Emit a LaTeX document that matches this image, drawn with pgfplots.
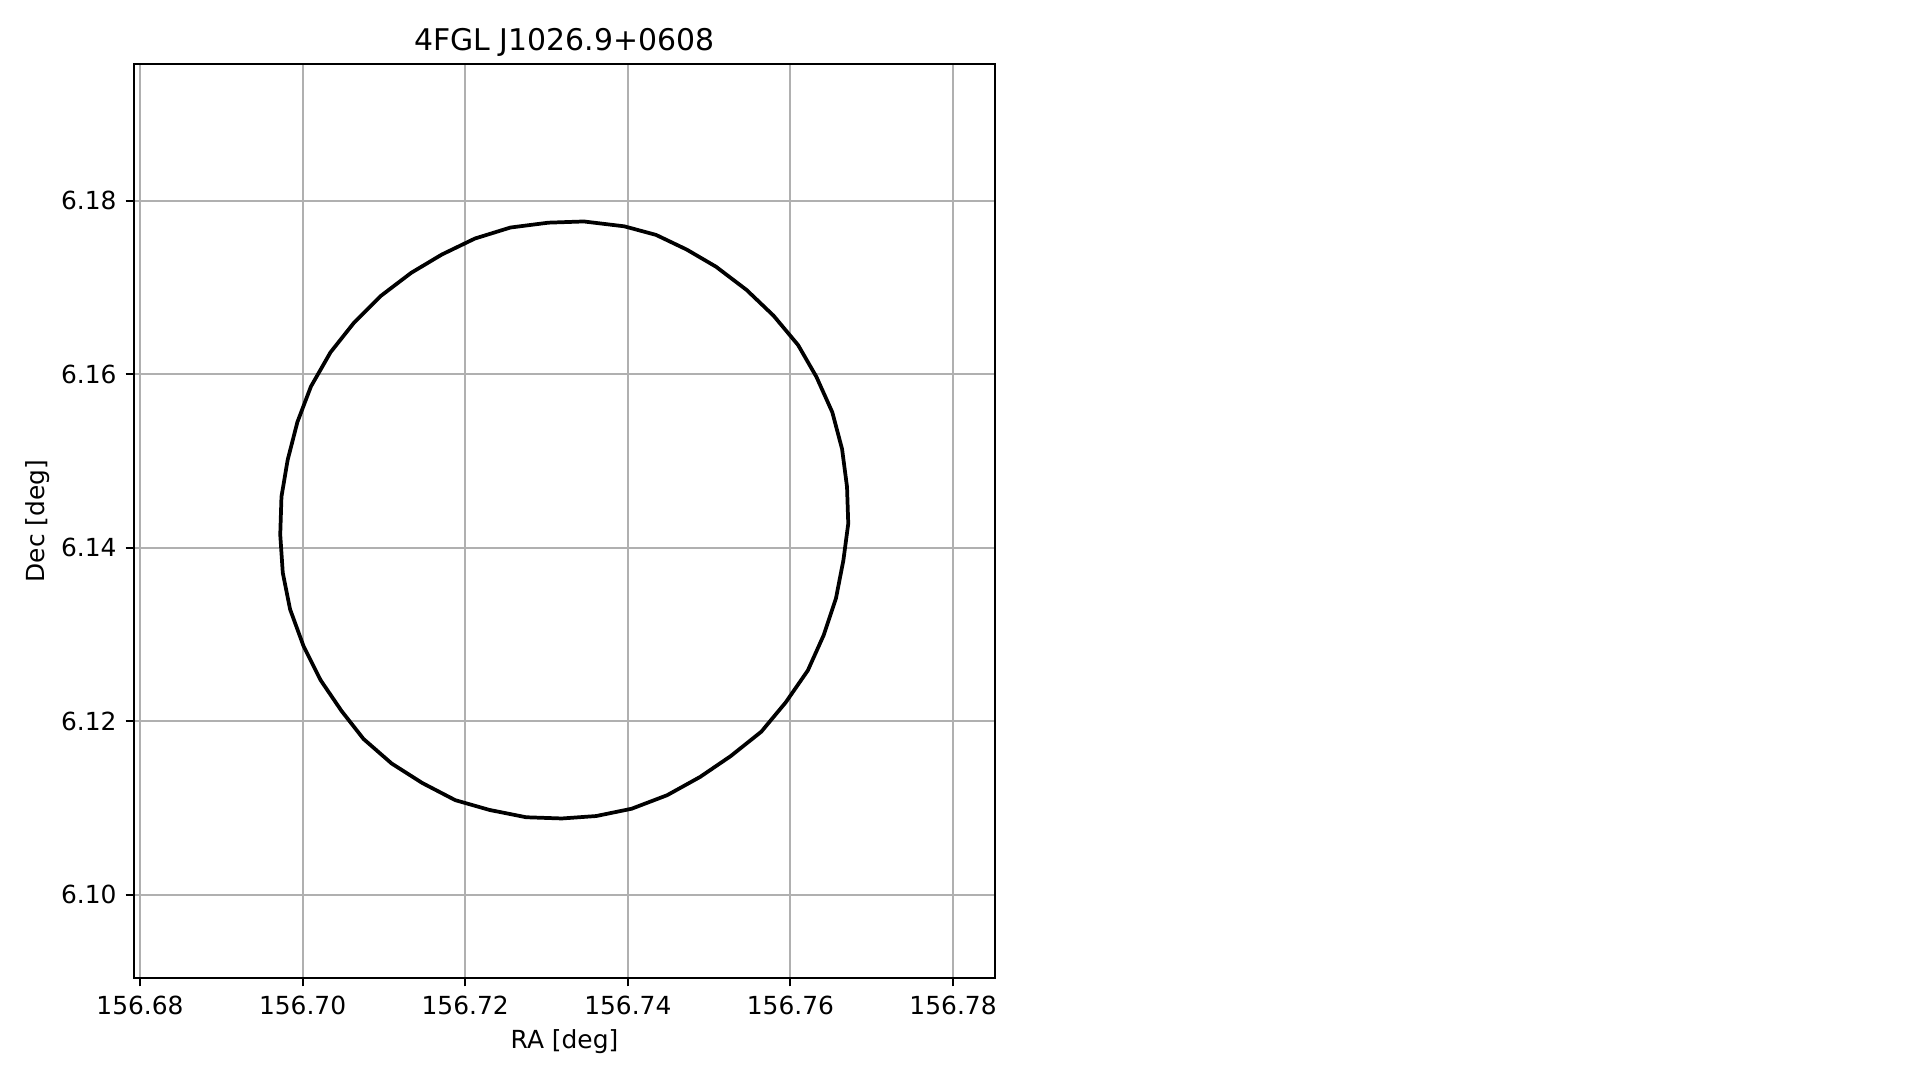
\documentclass[border=0pt]{standalone}
\usepackage{fontspec}
\setmainfont{DejaVu Sans}
\usepackage{pgfplots}
\pgfplotsset{compat=1.18}
\begin{document}
\begin{tikzpicture}
\path[use as bounding box] (0,0) rectangle (770.67pt,433.73pt);
\begin{axis}[
  at={(54.0pt,41.12pt)}, anchor=south west,
  scale only axis, width=345.4pt, height=366.7pt,
  xmin=-0.02068, xmax=0.0851, ymin=-0.00956, ymax=0.09573,
  scaled ticks=false,
  xtick={-0.02,0,0.02,0.04,0.06,0.08},
  xticklabels={156.68,156.70,156.72,156.74,156.76,156.78},
  ytick={0,0.02,0.04,0.06,0.08},
  yticklabels={6.10,6.12,6.14,6.16,6.18},
  xtick pos=bottom, ytick pos=left,
  tick align=outside, major tick length=3.5pt,
  tick style={black, line width=0.8pt},
  axis line style={black, line width=0.8pt},
  grid=major, major grid style={color=black!31, line width=0.8pt},
  tick label style={font=\fontsize{10}{12}\selectfont, inner sep=0pt},
  xticklabel style={anchor=north, yshift=-3.5pt},
  yticklabel style={anchor=east, xshift=-3.5pt},
  every axis title/.style={at={(axis description cs:0.5,1)}, anchor=base, yshift=5.65pt, inner sep=0pt, font=\fontsize{12}{14}\selectfont},
  title={4FGL J1026.9+0608},
  xlabel={RA [deg]},
  xlabel style={at={(axis description cs:0.5,0)}, anchor=base, yshift=-28.6pt, inner sep=0pt, font=\fontsize{10}{12}\selectfont},
  ylabel={Dec [deg]},
  ylabel style={at={(axis description cs:-0.10406,0.5)}, rotate=0, anchor=base, inner sep=0pt, font=\fontsize{10}{12}\selectfont},
]
\addplot[black, line width=1.5pt, line join=round, mark=none] coordinates {
(0.03022,0.07749) (0.03459,0.07763) (0.03956,0.07707) (0.04347,0.07608)
(0.04724,0.07439) (0.05085,0.07241) (0.05461,0.06973) (0.05792,0.06677)
(0.06094,0.06338) (0.06319,0.05972) (0.06515,0.05563) (0.06635,0.05139)
(0.06696,0.04702) (0.06711,0.04279) (0.06651,0.03855) (0.06560,0.03418)
(0.06410,0.02995) (0.06214,0.02586) (0.05943,0.02219) (0.05642,0.01880)
(0.05265,0.01598) (0.04889,0.01358) (0.04483,0.01147) (0.04046,0.00991)
(0.03610,0.00907) (0.03188,0.00879) (0.02751,0.00893) (0.02300,0.00977)
(0.01878,0.01090) (0.01472,0.01288) (0.01095,0.01513) (0.00749,0.01796)
(0.00478,0.02120) (0.00222,0.02473) (0.00011,0.02868) (-0.00154,0.03291)
(-0.00244,0.03714) (-0.00275,0.04152) (-0.00260,0.04589) (-0.00184,0.05012)
(-0.00064,0.05450) (0.00102,0.05859) (0.00343,0.06254) (0.00629,0.06592)
(0.00960,0.06903) (0.01336,0.07171) (0.01713,0.07382) (0.02119,0.07566)
(0.02556,0.07693) (0.03022,0.07749)
};
\end{axis}
\end{tikzpicture}
\end{document}
